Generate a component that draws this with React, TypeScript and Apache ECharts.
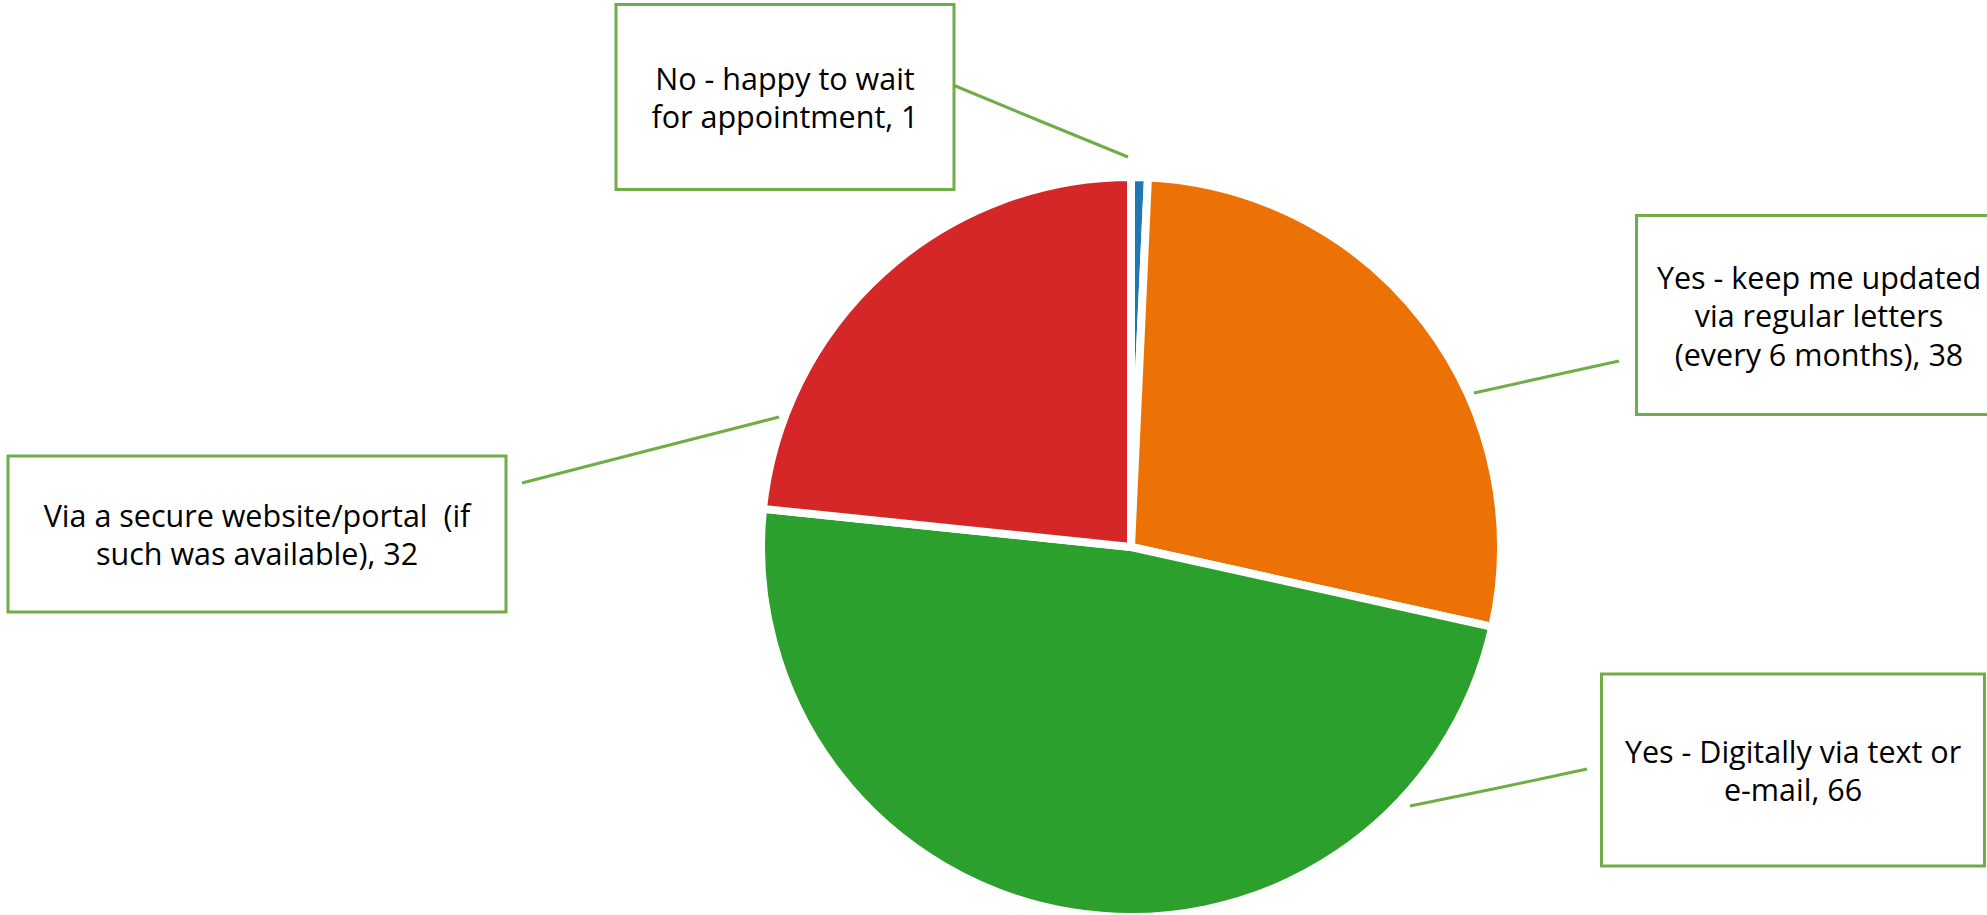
import React, { useEffect, useRef } from "react";
import * as echarts from "echarts";

// ---- data ----
const categories = [
  "No - happy to wait\nfor appointment",
  "Yes - keep me updated\nvia regular letters\n(every 6 months)",
  "Yes - Digitally via text or\ne-mail",
  "Via a secure website/portal  (if\nsuch was available)",
];
const values = [1, 38, 66, 32];
const colors = ["#1F77B4", "#EC7206", "#2CA02C", "#D62728"];

// ---- layout (pixels) ----
const W = 1987;
const H = 915;
const PIE_CENTER = [1131, 547];
const PIE_RADIUS = 370;
const GREEN = "#70AD47";
const LINE_H = 38.5;

const labelBoxes = [
  { cx: 785, cy: 97, w: 335, h: 182, line: [[1128, 157], [1040, 121], [953, 85]] },
  { cx: 1819, cy: 315, w: 362, h: 196, line: [[1474, 393], [1546, 377], [1619, 361]] },
  { cx: 1793, cy: 770, w: 380, h: 189, line: [[1410, 806], [1498, 788], [1587, 769]] },
  { cx: 257, cy: 534, w: 495, h: 153, line: [[779, 417], [650, 450], [522, 483]], shift: 4 },
];

export default function App() {
  const ref = useRef<HTMLDivElement>(null);

  useEffect(() => {
    if (!ref.current) return;
    const chart = echarts.init(ref.current, undefined, { renderer: "svg" });

    const data = categories.map((name, i) => {
      const box = labelBoxes[i];
      const lines = name.split("\n").length;
      const textH = lines * LINE_H;
      const shift = (box as any).shift || 0;
      const padTop = (box.h - textH) / 2 + shift;
      const padBottom = (box.h - textH) / 2 - shift;
      return {
        name,
        value: values[i],
        itemStyle: { color: colors[i] },
        label: {
          width: box.w,
          padding: [padTop, 0, padBottom, 0],
        },
      };
    });

    chart.setOption({
      animation: false,
      backgroundColor: "#ffffff",
      series: [
        {
          type: "pie",
          center: PIE_CENTER,
          radius: PIE_RADIUS,
          startAngle: 90,
          clockwise: true,
          avoidLabelOverlap: false,
          data,
          itemStyle: { borderColor: "#ffffff", borderWidth: 8 },
          emphasis: { disabled: true },
          label: {
            show: true,
            position: "outer",
            formatter: "{b}, {c}",
            fontFamily: "'Open Sans', 'Noto Sans', sans-serif",
            fontSize: 30.5,
            lineHeight: LINE_H,
            color: "#000000",
            align: "center",
            overflow: "none",
            backgroundColor: "#ffffff",
            borderColor: GREEN,
            borderWidth: 3,
          },
          labelLine: {
            show: true,
            smooth: false,
            lineStyle: { color: GREEN, width: 3 },
          },
          labelLayout: (params: any) => {
            const box = labelBoxes[params.dataIndex];
            return {
              x: box.cx,
              y: box.cy,
              align: "center",
              verticalAlign: "middle",
              labelLinePoints: box.line,
            };
          },
        },
      ],
    });

    return () => chart.dispose();
  }, []);

  return (
    <div
      ref={ref}
      style={{ position: "absolute", left: 0, top: 0, width: W, height: H, background: "#fff" }}
    />
  );
}
